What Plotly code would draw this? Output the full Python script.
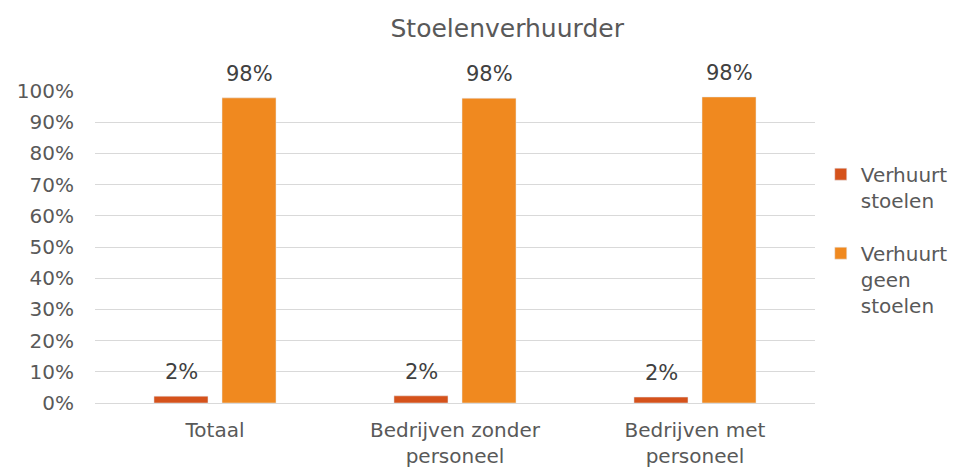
import plotly.graph_objects as go

categories = ["Totaal", "Bedrijven zonder<br>personeel", "Bedrijven met<br>personeel"]
series_names = ["Verhuurt<br>stoelen", "Verhuurt<br>geen<br>stoelen"]
verhuurt = [2.2, 2.3, 1.9]
verhuurt_geen = [97.8, 97.7, 98.1]
labels_verhuurt = ["2%", "2%", "2%"]
labels_geen = ["98%", "98%", "98%"]
tick_vals = [0, 10, 20, 30, 40, 50, 60, 70, 80, 90, 100]
tick_text = ["0%", "10%", "20%", "30%", "40%", "50%", "60%", "70%", "80%", "90%", "100%"]

font = "DejaVu Sans, Verdana, sans-serif"
grey = "#595959"
colors = ["#D5521B", "#F0891F"]

fig = go.Figure()
fig.add_trace(go.Bar(x=categories, y=verhuurt, name=series_names[0], marker_color=colors[0],
                     legendgroup="a"))
fig.add_trace(go.Bar(x=categories, y=verhuurt_geen, name=series_names[1], marker_color=colors[1],
                     legendgroup="b"))

# data labels
for vals, labs, shift in [(verhuurt, labels_verhuurt, -34), (verhuurt_geen, labels_geen, 34)]:
    for c, v, t in zip(categories, vals, labs):
        fig.add_annotation(x=c, y=v, text=t, showarrow=False, xref="x", yref="y",
                           xanchor="center", yanchor="bottom", xshift=shift, yshift=10,
                           font=dict(size=21, color="#404040", family=font))

fig.update_layout(
    width=960, height=469,
    paper_bgcolor="white", plot_bgcolor="white",
    font=dict(family=font, color=grey, size=20),
    title=dict(text="Stoelenverhuurder", x=0.52, xanchor="center", y=0.957, yanchor="middle",
               font=dict(size=25, color=grey, family=font)),
    margin=dict(l=87, r=153, t=83, b=74),
    barmode="group", bargap=0.433, bargroupgap=0.206,
    showlegend=True,
    legend=dict(x=1.008, xanchor="left", y=0.796, yanchor="top", valign="top",
                font=dict(size=20, color=grey, family=font),
                tracegroupgap=24, itemwidth=30, bgcolor="rgba(0,0,0,0)"),
)
fig.update_yaxes(range=[0, 100], tickvals=tick_vals, ticktext=tick_text, showgrid=True,
                 gridcolor="#D9D9D9", gridwidth=1, zeroline=False, showline=False,
                 tickfont=dict(size=20, color=grey, family=font), ticks="",
                 ticklabelstandoff=20, automargin=False)
fig.update_xaxes(showline=True, linecolor="#D9D9D9", linewidth=1, ticks="",
                 tickfont=dict(size=20, color=grey, family=font),
                 ticklabelstandoff=9, automargin=False)

fig.write_html("out.html")
